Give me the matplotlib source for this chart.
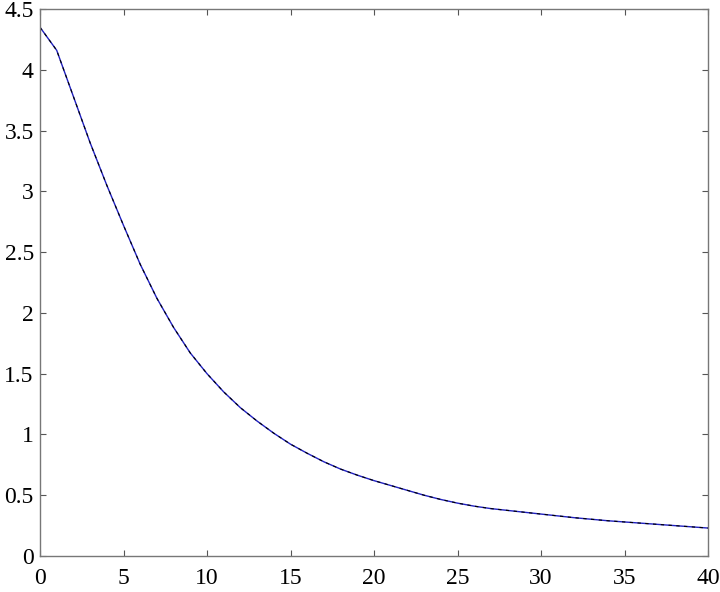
import matplotlib.pyplot as plt

x_vals = [0, 1, 2, 3, 4, 5, 6, 7, 8, 9, 10, 11, 12, 13, 14, 15, 16, 17, 18, 19,
          20, 21, 22, 23, 24, 25, 26, 27, 28, 29, 30, 32, 34, 36, 38, 40]
y_vals = [4.35, 4.16, 3.78, 3.40, 3.05, 2.72, 2.40, 2.12, 1.88, 1.67, 1.50, 1.35,
          1.22, 1.11, 1.01, 0.92, 0.845, 0.775, 0.715, 0.665, 0.62, 0.58, 0.54,
          0.50, 0.465, 0.435, 0.41, 0.39, 0.375, 0.36, 0.345, 0.315, 0.29, 0.27,
          0.25, 0.23]
x_ticks = [0, 5, 10, 15, 20, 25, 30, 35, 40]
y_ticks = [0, 0.5, 1, 1.5, 2, 2.5, 3, 3.5, 4, 4.5]

plt.rcParams['font.family'] = ['Liberation Serif', 'DejaVu Serif']

fig = plt.figure(figsize=(7.2, 5.92), dpi=100)
ax = fig.add_axes([40 / 720, 36 / 592, 668 / 720, 547 / 592])

ax.plot(x_vals, y_vals, color='#2020c0', linewidth=1.0)
ax.plot(x_vals, y_vals, color='black', linewidth=0.8, dashes=(3, 4))

ax.set_xlim(0, 40)
ax.set_ylim(0, 4.5)
ax.set_xticks(x_ticks)
ax.set_yticks(y_ticks)
ax.set_xticklabels([str(v) for v in x_ticks])
ax.set_yticklabels(['0', '0.5', '1', '1.5', '2', '2.5', '3', '3.5', '4', '4.5'])

ax.tick_params(direction='in', length=4, width=0.8, color='#555555',
               top=True, right=True, labelsize=17)
ax.tick_params(axis='x', pad=9)
ax.tick_params(axis='y', pad=4.5)
for sp in ax.spines.values():
    sp.set_color('#777777')
    sp.set_linewidth(1.0)

plt.savefig('out.png')
plt.close()
